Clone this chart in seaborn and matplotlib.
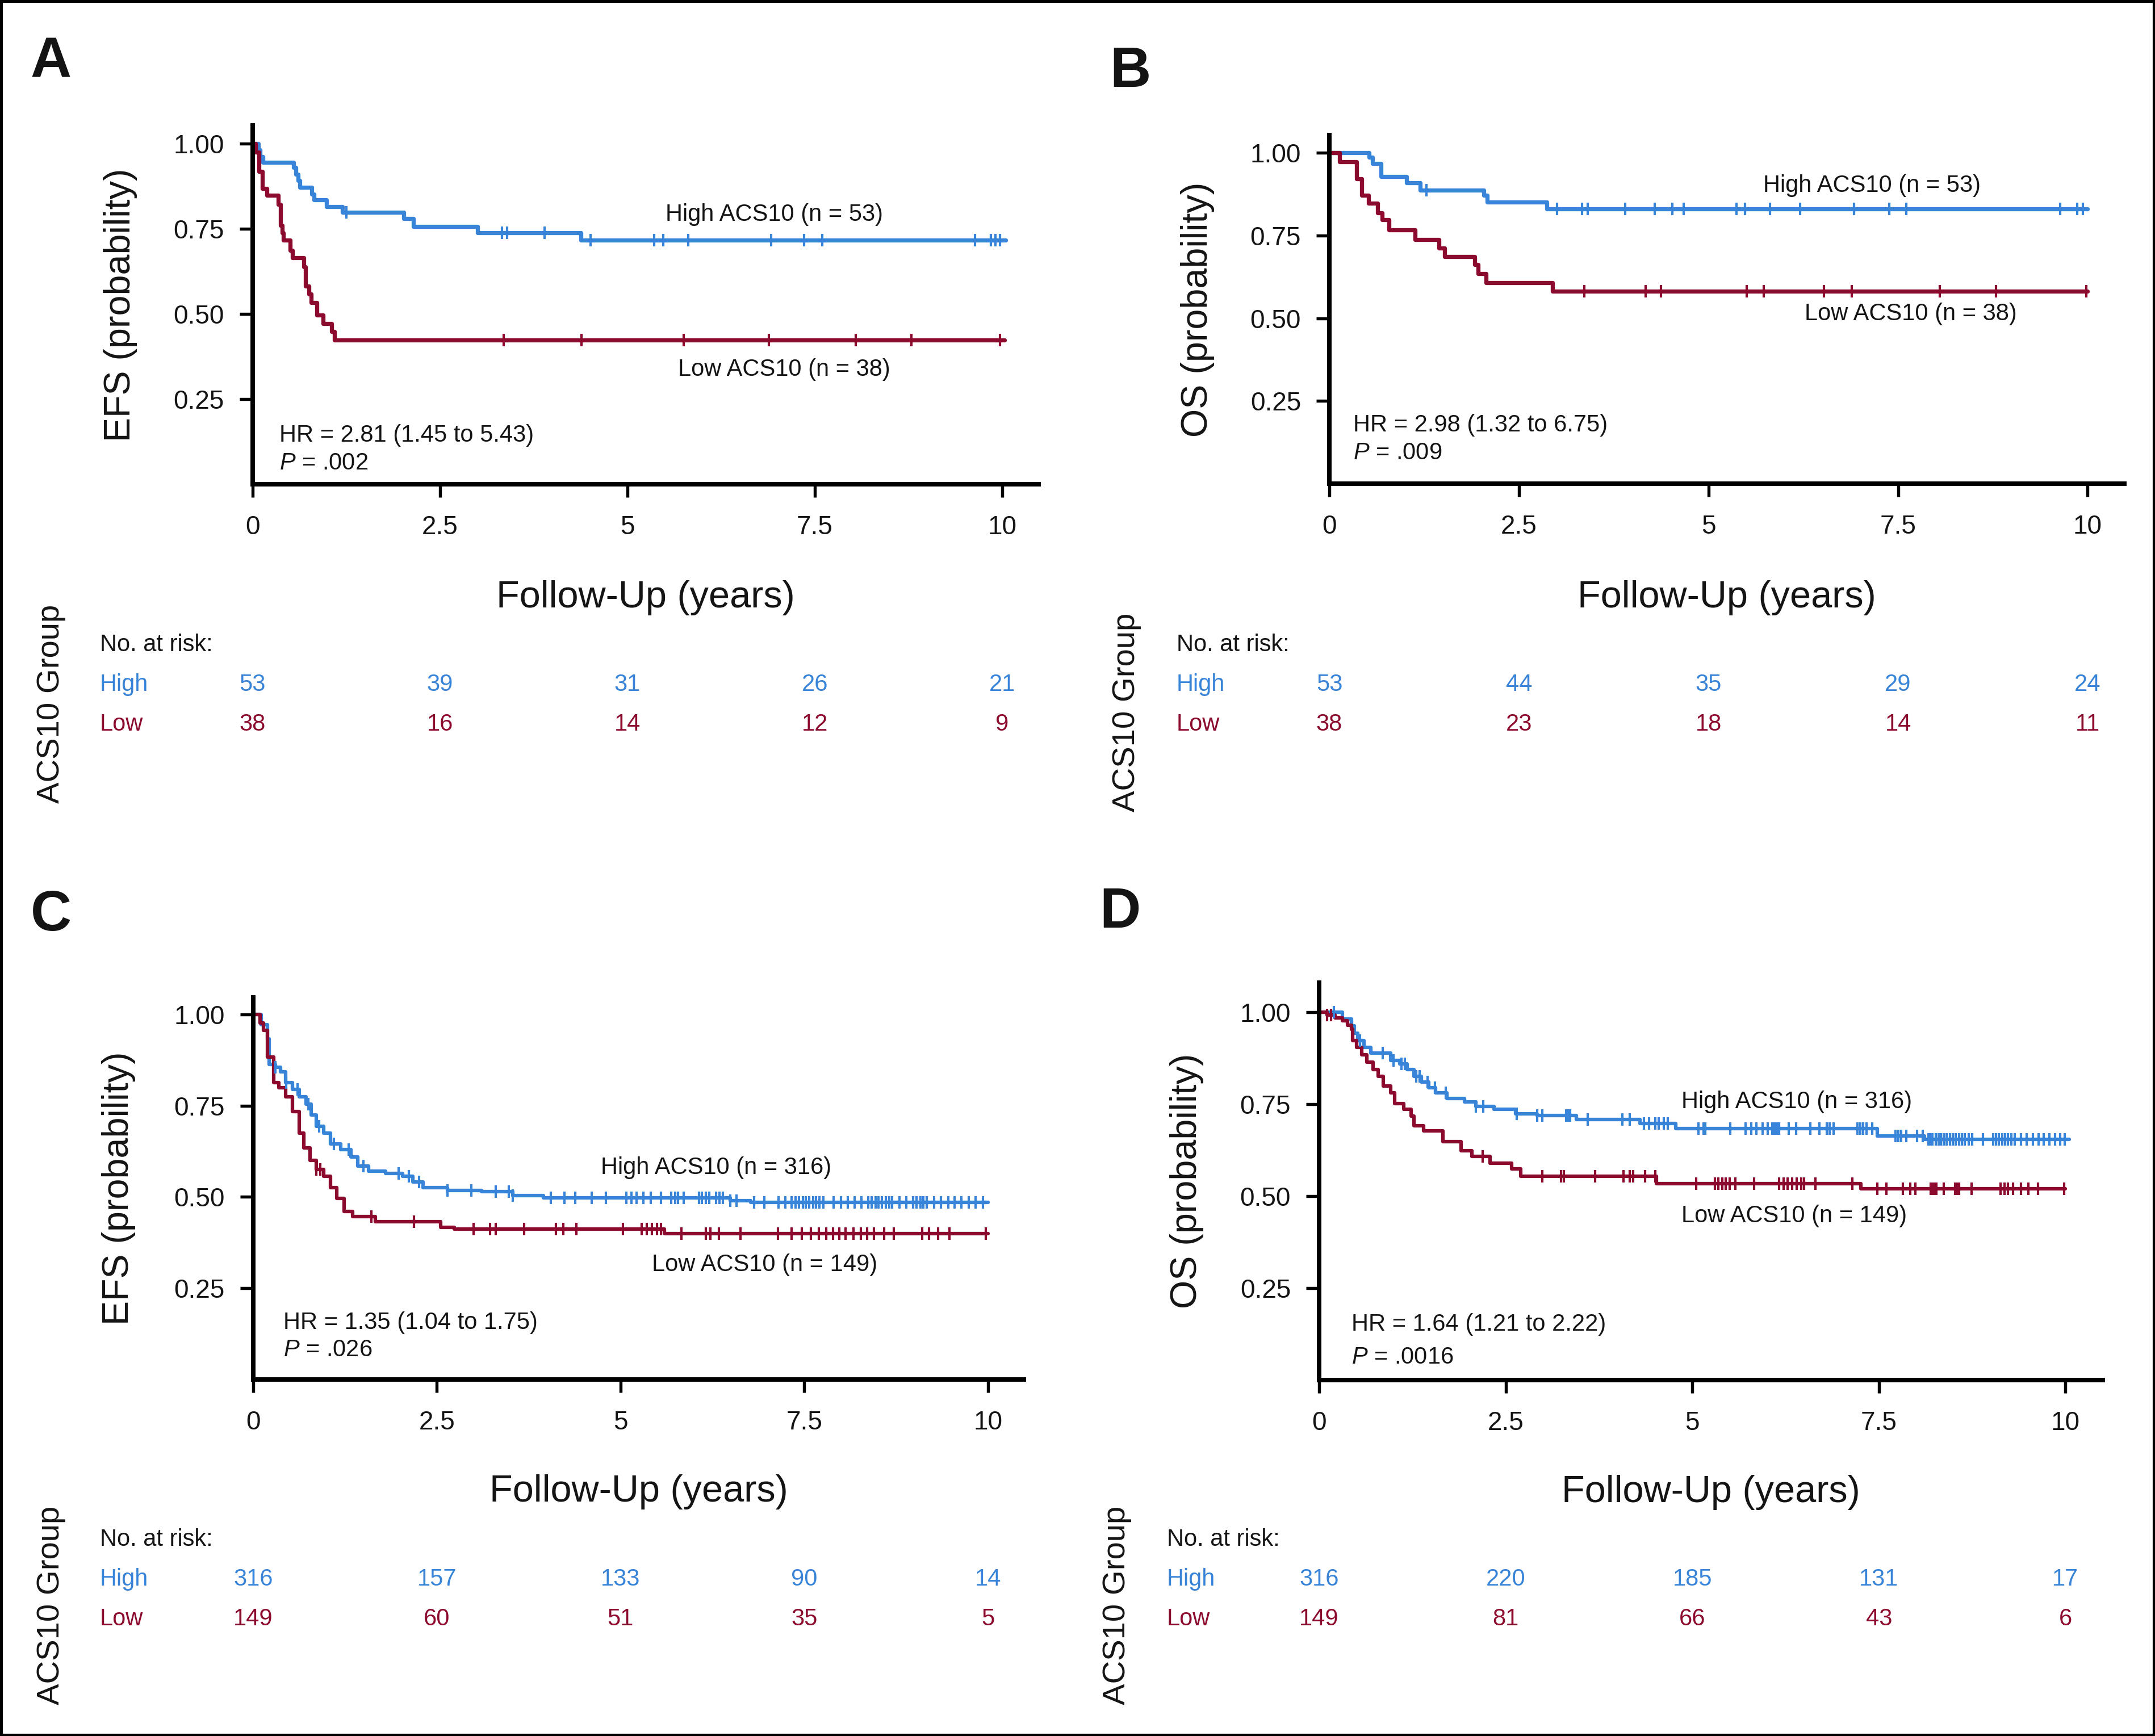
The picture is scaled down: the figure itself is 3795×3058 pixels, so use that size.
import numpy as np
import matplotlib
matplotlib.use("Agg")
import matplotlib.pyplot as plt
import seaborn as sns
from matplotlib.transforms import blended_transform_factory
from matplotlib.patches import Rectangle

# ---------------- data ----------------
# Panel A : EFS, cohort 1
a_hi_t = [0, 0.08, 0.10, 0.14, 0.55, 0.58, 0.61, 0.63, 0.79, 0.82, 0.99, 1.20, 2.02, 2.15, 3.00, 4.38]
a_hi_s = [1.0, 0.981, 0.962, 0.945, 0.930, 0.910, 0.891, 0.872, 0.852, 0.835, 0.815, 0.798, 0.779, 0.757, 0.738, 0.716]
a_hi_cens = [1.25, 3.33, 3.40, 3.90, 4.51, 5.36, 5.48, 5.81, 6.92, 7.36, 7.60, 9.64, 9.85, 9.91, 9.97]
a_lo_t = [0, 0.04, 0.084, 0.135, 0.196, 0.345, 0.372, 0.399, 0.416, 0.500, 0.534, 0.686, 0.709, 0.753,
          0.787, 0.861, 0.946, 1.054, 1.091]
a_lo_s = [1.0, 0.974, 0.918, 0.868, 0.848, 0.821, 0.760, 0.738, 0.716, 0.686, 0.664, 0.638, 0.582, 0.558,
          0.533, 0.496, 0.472, 0.449, 0.423]
a_lo_cens = [3.35, 4.39, 5.75, 6.89, 8.05, 8.79, 9.97]

# Panel B : OS, cohort 1
b_hi_t = [0, 0.525, 0.57, 0.68, 1.02, 1.20, 2.04, 2.08, 2.87]
b_hi_s = [1.0, 0.987, 0.968, 0.929, 0.910, 0.888, 0.872, 0.852, 0.830]
b_hi_cens = [1.28, 3.00, 3.33, 3.41, 3.90, 4.29, 4.52, 4.67, 5.37, 5.48, 5.81, 6.21, 6.92, 7.38, 7.61,
             9.64, 9.86, 9.94]
b_lo_t = [0, 0.136, 0.362, 0.425, 0.516, 0.633, 0.697, 0.787, 1.131, 1.448, 1.520, 1.919, 1.964, 2.063, 2.941]
b_lo_s = [1.0, 0.974, 0.921, 0.872, 0.848, 0.819, 0.799, 0.768, 0.738, 0.713, 0.686, 0.662, 0.635, 0.607, 0.582]
b_lo_cens = [3.36, 4.17, 4.37, 5.50, 5.73, 6.52, 6.89, 8.05, 8.79, 9.98]

# Panel C : EFS, cohort 2
c_hi_t = [0, 0.11, 0.19, 0.22, 0.30, 0.37, 0.44, 0.53, 0.63, 0.72, 0.79, 0.86, 0.96, 1.05, 1.19, 1.33,
          1.42, 1.57, 1.80, 2.03, 2.17, 2.31, 2.64, 3.11, 3.53, 3.95, 6.49, 6.77]
c_hi_s = [1.0, 0.972, 0.933, 0.863, 0.855, 0.843, 0.813, 0.794, 0.774, 0.754, 0.724, 0.694, 0.675, 0.645,
          0.630, 0.610, 0.585, 0.570, 0.565, 0.556, 0.541, 0.526, 0.518, 0.514, 0.504, 0.498, 0.490, 0.485]
c_hi_cens = [0.30, 0.45, 0.60, 0.75, 0.90, 1.10, 1.30, 1.50, 1.98, 2.12, 2.26, 2.64, 2.97, 3.30, 3.48, 3.53,
             4.05, 4.24, 4.38, 4.61, 4.80, 5.08, 5.15, 5.22, 5.31, 5.41, 5.55, 5.69, 5.74, 5.78, 5.86,
             6.07, 6.11, 6.16, 6.21, 6.30, 6.35, 6.39, 6.49, 6.58, 6.82, 6.96, 7.15, 7.24, 7.33, 7.38,
             7.43, 7.48, 7.52, 7.57, 7.62, 7.66, 7.71, 7.76, 7.90, 8.00, 8.09, 8.19, 8.28, 8.37, 8.42,
             8.47, 8.51, 8.56, 8.61, 8.66, 8.70, 8.80, 8.89, 8.98, 9.03, 9.08, 9.12, 9.17, 9.27, 9.36,
             9.46, 9.55, 9.64, 9.74, 9.83, 9.93]
c_lo_t = [0, 0.09, 0.14, 0.19, 0.28, 0.35, 0.44, 0.53, 0.63, 0.69, 0.77, 0.86, 0.96, 1.05, 1.14, 1.24,
          1.35, 1.66, 2.55, 2.74, 5.60]
c_lo_s = [1.0, 0.977, 0.957, 0.883, 0.813, 0.799, 0.774, 0.734, 0.675, 0.635, 0.600, 0.575, 0.556, 0.526,
          0.496, 0.461, 0.446, 0.432, 0.417, 0.412, 0.399]
c_lo_cens = [0.86, 0.91, 1.61, 2.19, 3.00, 3.22, 3.30, 3.69, 4.12, 4.22, 4.40, 5.03, 5.29, 5.36, 5.43,
             5.50, 5.55, 5.83, 6.16, 6.22, 6.34, 6.63, 7.14, 7.33, 7.47, 7.59, 7.70, 7.80, 7.89, 7.98,
             8.06, 8.17, 8.27, 8.36, 8.45, 8.59, 8.72, 9.11, 9.20, 9.32, 9.48, 9.97]

# Panel D : OS, cohort 2
d_hi_t = [0, 0.31, 0.43, 0.47, 0.52, 0.60, 0.69, 0.96, 1.08, 1.18, 1.27, 1.37, 1.47, 1.56, 1.71, 1.95,
          2.10, 2.34, 2.63, 2.92, 3.45, 4.30, 4.78, 7.48, 8.11]
d_hi_s = [1.0, 0.982, 0.963, 0.943, 0.923, 0.904, 0.889, 0.869, 0.859, 0.844, 0.825, 0.810, 0.795, 0.781,
          0.766, 0.756, 0.744, 0.736, 0.724, 0.719, 0.708, 0.697, 0.683, 0.663, 0.654]
d_hi_cens = [0.20, 0.55, 0.85, 1.00, 1.10, 1.15, 1.30, 1.35, 1.45, 1.55, 1.70, 2.10, 2.20, 2.65, 2.92,
             2.99, 3.31, 3.33, 3.36, 3.60, 4.06, 4.16, 4.35, 4.42, 4.50, 4.55, 4.62, 4.67, 5.08, 5.15,
             5.17, 5.51, 5.71, 5.79, 5.86, 5.94, 6.01, 6.07, 6.09, 6.11, 6.14, 6.16, 6.29, 6.39, 6.58,
             6.70, 6.80, 6.84, 6.89, 7.21, 7.25, 7.29, 7.33, 7.41, 7.72, 7.76, 7.80, 7.87, 8.01, 8.09,
             8.16, 8.19, 8.22, 8.26, 8.30, 8.33, 8.37, 8.41, 8.45, 8.49, 8.53, 8.57, 8.61, 8.65, 8.70,
             8.75, 8.89, 9.03, 9.07, 9.11, 9.15, 9.19, 9.23, 9.27, 9.32, 9.40, 9.48, 9.56, 9.64, 9.71,
             9.78, 9.86, 9.93, 9.99]
d_lo_t = [0, 0.11, 0.21, 0.31, 0.38, 0.43, 0.45, 0.50, 0.57, 0.64, 0.72, 0.79, 0.86, 0.96, 1.01, 1.13,
          1.23, 1.27, 1.40, 1.66, 1.90, 2.05, 2.29, 2.58, 2.70, 4.52, 7.26]
d_lo_s = [1.0, 0.992, 0.985, 0.977, 0.965, 0.953, 0.923, 0.904, 0.884, 0.864, 0.844, 0.825, 0.800, 0.781,
          0.751, 0.736, 0.717, 0.692, 0.677, 0.648, 0.623, 0.608, 0.589, 0.574, 0.554, 0.534, 0.520]
d_lo_cens = [0.11, 0.16, 2.19, 2.99, 3.24, 3.28, 3.70, 4.08, 4.16, 4.21, 4.37, 4.50, 5.05, 5.30, 5.35,
             5.40, 5.45, 5.50, 5.58, 5.83, 6.16, 6.22, 6.28, 6.34, 6.40, 6.46, 6.50, 6.65, 7.14, 7.48,
             7.60, 7.82, 7.92, 7.99, 8.19, 8.21, 8.24, 8.27, 8.37, 8.52, 8.55, 8.57, 8.74, 9.13, 9.18,
             9.23, 9.30, 9.40, 9.50, 9.63, 9.98]

risk_times = [0, 2.5, 5, 7.5, 10]
a_risk_hi = [53, 39, 31, 26, 21]
a_risk_lo = [38, 16, 14, 12, 9]
b_risk_hi = [53, 44, 35, 29, 24]
b_risk_lo = [38, 23, 18, 14, 11]
c_risk_hi = [316, 157, 133, 90, 14]
c_risk_lo = [149, 60, 51, 35, 5]
d_risk_hi = [316, 220, 185, 131, 17]
d_risk_lo = [149, 81, 66, 43, 6]

x_ticks = [0, 2.5, 5, 7.5, 10]
x_ticklabels = ["0", "2.5", "5", "7.5", "10"]
y_ticks = [0.25, 0.50, 0.75, 1.00]
y_ticklabels = ["0.25", "0.50", "0.75", "1.00"]

# ---------------- style ----------------
sns.set_theme(style="ticks")
plt.rcParams["font.family"] = ["Liberation Sans", "DejaVu Sans"]
plt.rcParams["mathtext.fontset"] = "custom"
plt.rcParams["mathtext.rm"] = "Liberation Sans"
plt.rcParams["mathtext.it"] = "Liberation Sans:italic"

BLUE = "#3784d8"
RED = "#8c0a2e"
INK = "#141414"

W, H = 3795, 3058
fig = plt.figure(figsize=(W / 300, H / 300), dpi=300)
fig.patch.set_facecolor("white")


def fx(x):
    return x / W


def fy(y):
    return 1 - y / H


panels = [
    dict(letter="A", rect=(444.5, 1829.5, 221, 853), xmax=10.49, ymax=1.053, ylab="EFS (probability)",
         hi=(a_hi_t, a_hi_s, 10.05, a_hi_cens), lo=(a_lo_t, a_lo_s, 10.03, a_lo_cens),
         hi_lab=(5.51, 0.773, "High ACS10 (n = 53)"), lo_lab=(5.68, 0.319, "Low ACS10 (n = 38)"),
         hr=(0.356, 0.125, 0.043, "HR = 2.81 (1.45 to 5.43)", ".002"),
         risk=(a_risk_hi, a_risk_lo), risk_y=(1147, 1217, 1287), risk_x=176, grp=(90, 1240),
         letter_xy=(54, 137), xlab_y=1070, ylab_xy=(212, 537), lw=1.75),
    dict(letter="B", rect=(2341, 3740.6, 238, 852), xmax=10.48, ymax=1.054, ylab="OS (probability)",
         hi=(b_hi_t, b_hi_s, 10.0, b_hi_cens), lo=(b_lo_t, b_lo_s, 10.0, b_lo_cens),
         hi_lab=(5.72, 0.883, "High ACS10 (n = 53)"), lo_lab=(6.27, 0.494, "Low ACS10 (n = 38)"),
         hr=(0.317, 0.158, 0.074, "HR = 2.98 (1.32 to 6.75)", ".009"),
         risk=(b_risk_hi, b_risk_lo), risk_y=(1147, 1217, 1287), risk_x=2072, grp=(1984, 1255),
         letter_xy=(1954, 153), xlab_y=1070, ylab_xy=(2109, 545), lw=1.75),
    dict(letter="C", rect=(446, 1803, 1757.3, 2430), xmax=10.49, ymax=1.046, ylab="EFS (probability)",
         hi=(c_hi_t, c_hi_s, 10.0, c_hi_cens), lo=(c_lo_t, c_lo_s, 10.0, c_lo_cens),
         hi_lab=(4.73, 0.563, "High ACS10 (n = 316)"), lo_lab=(5.43, 0.297, "Low ACS10 (n = 149)"),
         hr=(0.41, 0.139, 0.064, "HR = 1.35 (1.04 to 1.75)", ".026"),
         risk=(c_risk_hi, c_risk_lo), risk_y=(2723, 2793, 2863), risk_x=176, grp=(90, 2828),
         letter_xy=(54, 1639), xlab_y=2645, ylab_xy=(209, 2093), lw=1.5),
    dict(letter="D", rect=(2323, 3703.2, 1730.5, 2430.8), xmax=10.50, ymax=1.081, ylab="OS (probability)",
         hi=(d_hi_t, d_hi_s, 10.05, d_hi_cens), lo=(d_lo_t, d_lo_s, 10.0, d_lo_cens),
         hi_lab=(4.85, 0.739, "High ACS10 (n = 316)"), lo_lab=(4.85, 0.429, "Low ACS10 (n = 149)"),
         hr=(0.43, 0.134, 0.045, "HR = 1.64 (1.21 to 2.22)", ".0016"),
         risk=(d_risk_hi, d_risk_lo), risk_y=(2723, 2793, 2863), risk_x=2055, grp=(1967, 2828),
         letter_xy=(1936, 1634), xlab_y=2646, ylab_xy=(2090, 2080), lw=1.5),
]


def draw_curve(ax, t, s, t_end, cens, color, lw):
    tt = list(t) + [t_end]
    ss = list(s) + [s[-1]]
    sns.lineplot(x=tt, y=ss, ax=ax, color=color, linewidth=lw, drawstyle="steps-post",
                 estimator=None, sort=False, legend=False)
    c = np.asarray(cens, dtype=float)
    idx = np.searchsorted(np.asarray(t), c, side="right") - 1
    sc = np.asarray(s)[idx]
    sns.scatterplot(x=c, y=sc, ax=ax, marker="|", s=26, color=color, linewidth=1.0,
                    edgecolor=None, legend=False, zorder=3)


for p in panels:
    l, r, t, b = p["rect"]
    ax = fig.add_axes([fx(l), fy(b), fx(r - l), (b - t) / H])
    ax.set_facecolor("none")
    draw_curve(ax, *p["hi"], BLUE, p["lw"])
    draw_curve(ax, *p["lo"], RED, p["lw"])
    ax.set_xlim(0, p["xmax"])
    ax.set_ylim(0, p["ymax"])
    ax.set_xticks(x_ticks)
    ax.set_xticklabels(x_ticklabels)
    ax.set_yticks(y_ticks)
    ax.set_yticklabels(y_ticklabels)
    sns.despine(ax=ax)
    for side in ("left", "bottom"):
        ax.spines[side].set_linewidth(1.9)
        ax.spines[side].set_color("black")
    ax.tick_params(axis="both", direction="out", length=5.5, width=1.3, color="black",
                   labelsize=11, labelcolor=INK)
    ax.tick_params(axis="y", pad=6.5)
    ax.tick_params(axis="x", pad=7.5)
    ax.set_xlabel("")
    ax.set_ylabel("")

    # curve labels
    for (x, y, txt) in (p["hi_lab"], p["lo_lab"]):
        ax.text(x, y, txt, fontsize=10, color=INK, ha="left", va="baseline")
    hx, hy, py, hr_txt, pv = p["hr"]
    ax.text(hx, hy, hr_txt, fontsize=10, color=INK, ha="left", va="baseline")
    ax.text(hx, py, r"$\it{P}$" + " = " + pv, fontsize=10, color=INK, ha="left", va="baseline")

    # axis titles
    cx = (l + r) / 2
    fig.text(fx(cx), fy(p["xlab_y"]), "Follow-Up (years)", fontsize=16, color=INK,
             ha="center", va="baseline")
    yx, yy = p["ylab_xy"]
    fig.text(fx(yx), fy(yy), p["ylab"], fontsize=15.5, color=INK, rotation=90,
             ha="center", va="center")

    # panel letter
    lx, ly = p["letter_xy"]
    fig.text(fx(lx), fy(ly), p["letter"], fontsize=24, fontweight="bold", color=INK,
             ha="left", va="baseline")

    # risk table
    ry0, ry1, ry2 = p["risk_y"]
    rx = p["risk_x"]
    fig.text(fx(rx), fy(ry0), "No. at risk:", fontsize=10, color=INK, ha="left", va="baseline")
    fig.text(fx(rx), fy(ry1), "High", fontsize=10, color=BLUE, ha="left", va="baseline")
    fig.text(fx(rx), fy(ry2), "Low", fontsize=10, color=RED, ha="left", va="baseline")
    tr = blended_transform_factory(ax.transData, fig.transFigure)
    hi_n, lo_n = p["risk"]
    for tm, nh, nl in zip(risk_times, hi_n, lo_n):
        ax.text(tm, fy(ry1), str(nh), transform=tr, fontsize=10, color=BLUE,
                ha="center", va="baseline", clip_on=False)
        ax.text(tm, fy(ry2), str(nl), transform=tr, fontsize=10, color=RED,
                ha="center", va="baseline", clip_on=False)
    gx, gy = p["grp"]
    fig.text(fx(gx), fy(gy), "ACS10 Group", fontsize=13.5, color=INK, rotation=90,
             ha="center", va="center")

# outer frame
fig.add_artist(Rectangle((0, 0), 1, 1, transform=fig.transFigure, fill=False,
                         linewidth=2.2, edgecolor="black"))

fig.savefig("out.png", dpi=300, facecolor="white")
